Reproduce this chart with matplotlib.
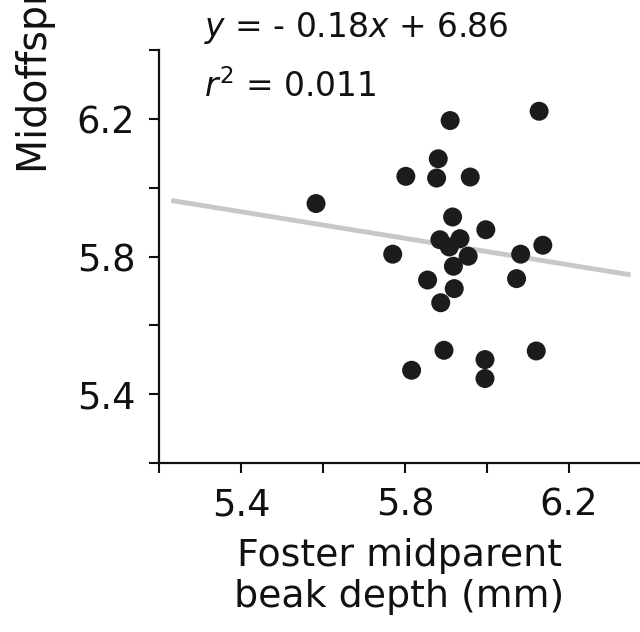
import matplotlib
matplotlib.use("Agg")
import matplotlib.pyplot as plt
from matplotlib.ticker import MultipleLocator

# foster midparent beak depth (x) vs midoffspring beak depth (y)
foster_x = [6.127, 5.910, 5.881, 5.802, 5.877, 5.959, 5.583, 5.916, 5.997, 5.885,
            5.934, 5.908, 6.136, 5.770, 5.954, 6.082, 5.918, 5.855, 6.072, 5.920,
            5.887, 5.895, 5.816, 5.995, 5.995, 6.120]
offspring_y = [6.222, 6.195, 6.084, 6.033, 6.028, 6.031, 5.954, 5.915, 5.878, 5.849,
               5.852, 5.828, 5.833, 5.807, 5.801, 5.807, 5.772, 5.732, 5.736, 5.707,
               5.666, 5.528, 5.470, 5.501, 5.446, 5.526]

# regression line as drawn in the figure
fit_x = [5.23, 6.35]
fit_y = [5.963, 5.747]

major_ticks = [5.4, 5.8, 6.2]
tick_labels = ["5.4", "5.8", "6.2"]

fig = plt.figure(figsize=(6.4, 6.32), dpi=100)
ax = fig.add_axes([0.2484, 0.267, 0.7516, 0.654])

ax.plot(fit_x, fit_y, color="#c8c8c8", lw=3.5, solid_capstyle="butt", zorder=1)
ax.scatter(foster_x, offspring_y, s=187, color="#1c1c1c", edgecolors="none", zorder=2)

ax.set_xlim(5.2, 6.373)
ax.set_ylim(5.2, 6.4)

ax.set_xticks(major_ticks)
ax.set_xticklabels(tick_labels)
ax.set_yticks(major_ticks)
ax.set_yticklabels(tick_labels)
ax.xaxis.set_minor_locator(MultipleLocator(0.2))
ax.yaxis.set_minor_locator(MultipleLocator(0.2))

ax.spines["top"].set_visible(False)
ax.spines["right"].set_visible(False)
for s in ("left", "bottom"):
    ax.spines[s].set_linewidth(1.6)
    ax.spines[s].set_color("#111111")

ax.tick_params(axis="both", which="both", length=7, width=1.5, color="#111111",
               direction="out")
ax.tick_params(axis="x", which="major", labelsize=26.5, pad=10, labelcolor="#111111")
ax.tick_params(axis="y", which="major", labelsize=26.5, pad=10, labelcolor="#111111")

ax.set_xlabel("Foster midparent\nbeak depth (mm)", fontsize=27.3, color="#111111",
              labelpad=10)

# y label is cut off by the left/top edge in the original scan
fig.text(36 / 640, 1 - 173 / 632, "Midoffspring beak depth (mm)", rotation=90,
         ha="center", va="bottom", fontsize=28.5, color="#111111")

fig.text(204 / 640, 1 - 37 / 632, r"$y$ = - 0.18$x$ + 6.86", ha="left",
         va="baseline", fontsize=23.7, color="#111111")
fig.text(204 / 640, 1 - 97 / 632, r"$r^2$ = 0.011", ha="left",
         va="baseline", fontsize=23.7, color="#111111")

fig.savefig("out.png", dpi=100)
